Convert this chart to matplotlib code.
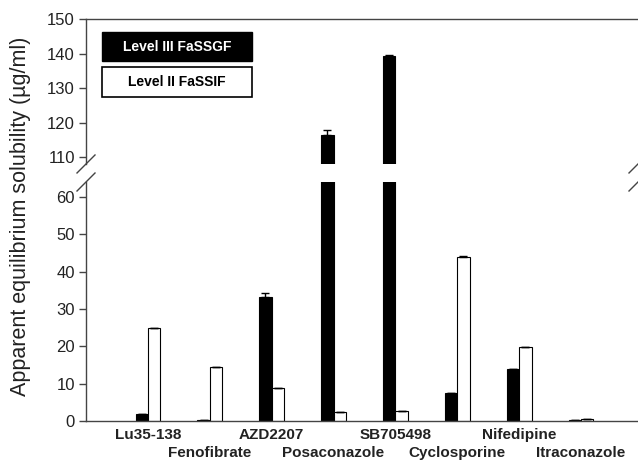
import numpy as np
import matplotlib.pyplot as plt
from matplotlib.patches import Rectangle

# data
drugs = ['Lu35-138', 'Fenofibrate', 'AZD2207', 'Posaconazole',
         'SB705498', 'Cyclosporine', 'Nifedipine', 'Itraconazole']
fassgf = [1.8, 0.3, 33.2, 116.4, 139.3, 7.4, 13.8, 0.3]
fassgf_err = [0.0, 0.0, 1.0, 1.4, 0.3, 0.0, 0.0, 0.0]
fassif = [25.0, 14.4, 8.7, 2.3, 2.7, 43.9, 19.7, 0.4]
fassif_err = [0.0, 0.0, 0.0, 0.0, 0.0, 0.2, 0.0, 0.0]
low_ticks = [0, 10, 20, 30, 40, 50, 60]
high_ticks = [110, 120, 130, 140, 150]

plt.rcParams['font.family'] = ['Liberation Sans', 'DejaVu Sans']
spine_col = '#444444'
txt_col = '#222222'

fig = plt.figure(figsize=(6.38, 4.61), dpi=100)
ax_hi = fig.add_axes([0.1348, 0.6443, 0.8652, 0.3145])
ax_lo = fig.add_axes([0.1348, 0.0868, 0.8652, 0.5184])

x = np.arange(1, len(drugs) + 1)
w = 0.2
n = len(drugs)
for ax in (ax_hi, ax_lo):
    ax.bar(x - w / 2, fassgf, w, color='black', edgecolor='black', linewidth=0.8,
           yerr=[[0] * n, fassgf_err], error_kw=dict(ecolor='black', elinewidth=1, capsize=3, capthick=1))
    ax.bar(x + w / 2, fassif, w, color='white', edgecolor='black', linewidth=0.8,
           yerr=[[0] * n, fassif_err], error_kw=dict(ecolor='black', elinewidth=1, capsize=3, capthick=1))
    ax.set_xlim(0, 8.92)
    ax.spines['right'].set_visible(False)
    for s in ax.spines.values():
        s.set_color(spine_col)
        s.set_linewidth(1.0)
    ax.tick_params(axis='y', direction='out', length=5, width=1, color=spine_col,
                   labelsize=12, labelcolor=txt_col, pad=3)

ax_hi.set_ylim(108, 150)
ax_hi.set_yticks(high_ticks)
ax_hi.spines['bottom'].set_visible(False)
ax_hi.set_xticks([])

ax_lo.set_ylim(0, 64)
ax_lo.set_yticks(low_ticks)
ax_lo.spines['top'].set_visible(False)
# staggered category labels: odd ones as major ticks, even ones as minor ticks
ax_lo.set_xticks(x[0::2])
ax_lo.set_xticklabels(drugs[0::2], fontsize=11, fontweight='bold', color=txt_col)
ax_lo.set_xticks(x[1::2], minor=True)
ax_lo.set_xticklabels(drugs[1::2], minor=True, fontsize=11, fontweight='bold', color=txt_col)
ax_lo.tick_params(axis='x', which='major', length=0, pad=5)
ax_lo.tick_params(axis='x', which='minor', length=0, pad=18)

# break marks
kw = dict(color=spine_col, linewidth=1, clip_on=False)
dx = 9 / 552
for xc in (0, 1):
    ax_hi.plot([xc - dx, xc + dx], [-9 / 145, 9 / 145], transform=ax_hi.transAxes, **kw)
    ax_lo.plot([xc - dx, xc + dx], [1 - 9 / 239, 1 + 9 / 239], transform=ax_lo.transAxes, **kw)

# legend boxes
ax_hi.add_patch(Rectangle((0.029, 0.710), 0.272, 0.2, transform=ax_hi.transAxes,
                          facecolor='black', edgecolor='black', linewidth=1, clip_on=False))
ax_hi.text(0.165, 0.81, 'Level III FaSSGF', transform=ax_hi.transAxes, ha='center', va='center',
           color='white', fontsize=10, fontweight='bold')
ax_hi.add_patch(Rectangle((0.029, 0.462), 0.272, 0.207, transform=ax_hi.transAxes,
                          facecolor='white', edgecolor='black', linewidth=1.2, clip_on=False))
ax_hi.text(0.165, 0.565, 'Level II FaSSIF', transform=ax_hi.transAxes, ha='center', va='center',
           color='black', fontsize=10, fontweight='bold')

fig.text(0.032, 0.53, 'Apparent equilibrium solubility (µg/ml)', rotation=90,
         ha='center', va='center', fontsize=15.5, color=txt_col)

fig.savefig('out.png', dpi=100)
